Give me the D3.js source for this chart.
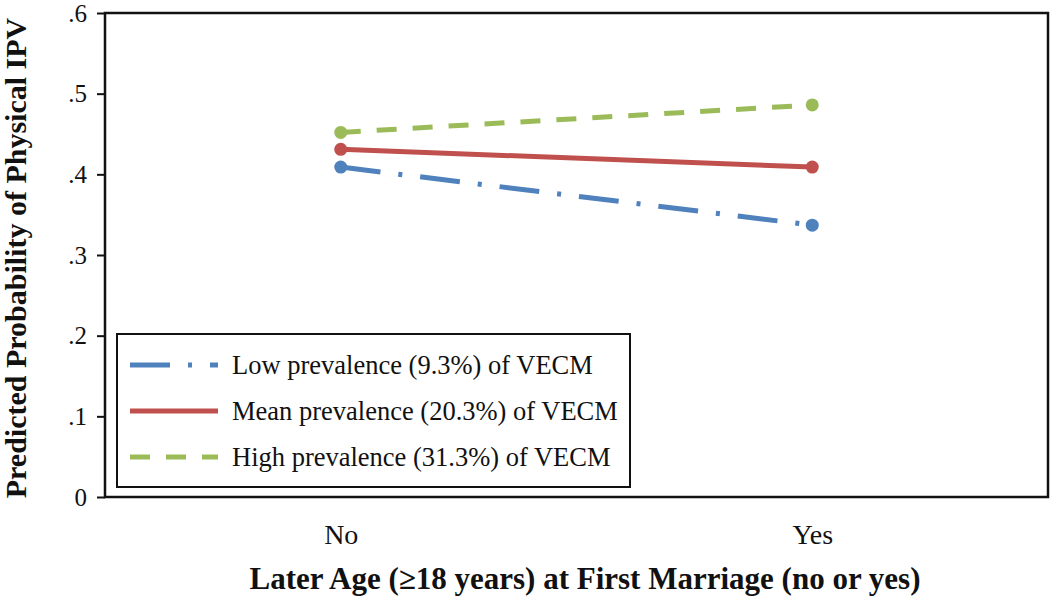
<!DOCTYPE html>
<html>
<head>
<meta charset="utf-8">
<script src="https://cdn.jsdelivr.net/npm/d3@7"></script>
<style>
  body { margin: 0; background: #fff; }
  text { font-family: "Liberation Serif", "DejaVu Serif", serif; fill: #111; }
</style>
</head>
<body>
<div id="chart"></div>
<script>
// data
const categories = ['No', 'Yes'];
const lowValues = [0.409, 0.337];
const meanValues = [0.431, 0.409];
const highValues = [0.452, 0.486];
const seriesNames = [
  'Low prevalence (9.3%) of VECM',
  'Mean prevalence (20.3%) of VECM',
  'High prevalence (31.3%) of VECM'
];
const yTicks = [0, 0.1, 0.2, 0.3, 0.4, 0.5, 0.6];
const yTickLabels = ['0', '.1', '.2', '.3', '.4', '.5', '.6'];

const series = [
  {name: seriesNames[0], values: lowValues, color: '#4F81BD', dash: '40,18,4,18'},
  {name: seriesNames[1], values: meanValues, color: '#C0504D', dash: null},
  {name: seriesNames[2], values: highValues, color: '#9BBB59', dash: '20,16'}
];

const width = 1050;
const height = 596;
const margin = {top: 13, right: 2, bottom: 99, left: 105};
const innerW = width - margin.left - margin.right;
const innerH = height - margin.top - margin.bottom;

const svg = d3.select('#chart').append('svg')
  .attr('width', width)
  .attr('height', height);

const g = svg.append('g')
  .attr('transform', `translate(${margin.left},${margin.top})`);

/* Scales */
const x = d3.scalePoint()
  .domain(categories)
  .range([0, innerW])
  .padding(0.5);

const y = d3.scaleLinear()
  .domain([0, 0.6])
  .range([innerH, 0]);

/* Y axis */
const yAxis = d3.axisLeft(y)
  .tickValues(yTicks)
  .tickFormat((d, i) => yTickLabels[i])
  .tickSize(8)
  .tickPadding(10);

const yg = g.append('g').call(yAxis);
yg.select('.domain').remove();
yg.selectAll('.tick line').attr('stroke', '#111').attr('stroke-width', 2);
yg.selectAll('.tick text')
  .style('font-size', '25px')
  .attr('fill', '#111');

/* X axis labels (no tick marks) */
const xAxis = d3.axisBottom(x).tickSize(0).tickPadding(27);
const xg = g.append('g')
  .attr('transform', `translate(0,${innerH})`)
  .call(xAxis);
xg.select('.domain').remove();
xg.selectAll('.tick text')
  .style('font-size', '28px')
  .attr('fill', '#111');

/* frame */
g.append('rect')
  .attr('x', 0)
  .attr('y', 0)
  .attr('width', innerW)
  .attr('height', innerH)
  .attr('fill', 'none')
  .attr('stroke', '#111')
  .attr('stroke-width', 2.5);

/* lines */
const line = d3.line()
  .x((d, i) => x(categories[i]))
  .y(d => y(d));

series.forEach(s => {
  g.append('path')
    .attr('d', line(s.values))
    .attr('fill', 'none')
    .attr('stroke', s.color)
    .attr('stroke-width', 5)
    .attr('stroke-dasharray', s.dash);

  g.selectAll(null)
    .data(s.values).enter()
    .append('circle')
    .attr('cx', (d, i) => x(categories[i]))
    .attr('cy', d => y(d))
    .attr('r', 6.5)
    .attr('fill', s.color);
});

/* legend */
const legend = g.append('g')
  .attr('transform', `translate(${117 - margin.left},${334 - margin.top})`);

legend.append('rect')
  .attr('width', 513)
  .attr('height', 153)
  .attr('fill', '#fff')
  .attr('stroke', '#111')
  .attr('stroke-width', 2);

series.forEach((s, i) => {
  const ly = 31 + i * 46;
  legend.append('line')
    .attr('x1', 13)
    .attr('x2', 101)
    .attr('y1', ly)
    .attr('y2', ly)
    .attr('stroke', s.color)
    .attr('stroke-width', 5)
    .attr('stroke-dasharray', s.dash);
  legend.append('text')
    .attr('x', 115)
    .attr('y', ly)
    .attr('dy', '0.35em')
    .style('font-size', '26.5px')
    .text(s.name);
});

/* axis titles */
svg.append('text')
  .attr('x', 585)
  .attr('y', 589)
  .attr('text-anchor', 'middle')
  .style('font-size', '31px')
  .style('font-weight', 'bold')
  .text('Later Age (\u226518 years) at First Marriage (no or yes)');

svg.append('text')
  .attr('transform', 'translate(26,258) rotate(-90)')
  .attr('text-anchor', 'middle')
  .style('font-size', '30px')
  .style('font-weight', 'bold')
  .text('Predicted Probability of Physical IPV');
</script>
</body>
</html>
